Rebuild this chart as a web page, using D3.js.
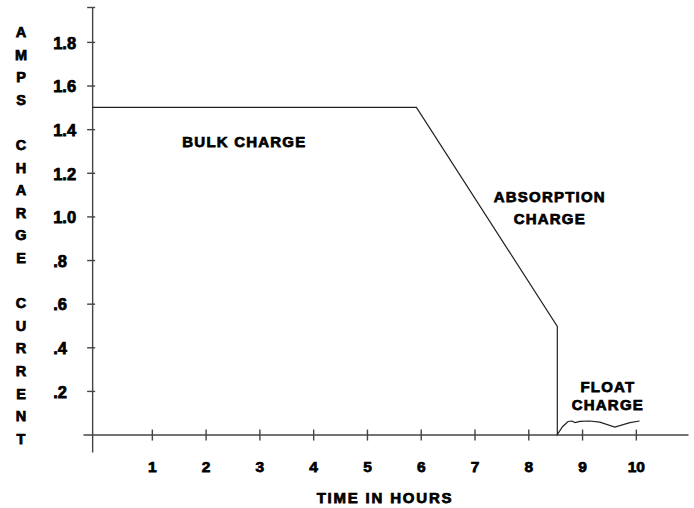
<!DOCTYPE html>
<html>
<head>
<meta charset="utf-8">
<script src="https://cdn.jsdelivr.net/npm/d3@7"></script>
<style>
  body { margin: 0; background: #fff; }
  text { font-family: "Liberation Sans", Arial, sans-serif; font-weight: bold; fill: #000; stroke: #000; stroke-width: 0.75px; }
</style>
</head>
<body>
<div id="my_dataviz"></div>
<script>
// charge curve
var timeHours   = [-0.11, 5.92, 8.54, 8.54, 8.64, 8.74, 8.81, 8.87, 8.96, 9.14, 9.33, 9.61, 9.89, 10.07];
var ampsCurrent = [1.5,   1.5,  0.496, 0,   0.037, 0.06, 0.062, 0.055, 0.06, 0.062, 0.057, 0.034, 0.055, 0.062];

var xTicks = [1, 2, 3, 4, 5, 6, 7, 8, 9, 10];
var yTicks = [0.2, 0.4, 0.6, 0.8, 1.0, 1.2, 1.4, 1.6, 1.8];
var yTickLabels = [".2", ".4", ".6", ".8", "1.0", "1.2", "1.4", "1.6", "1.8"];

var yTitle = ["A", "M", "P", "S", "", "C", "H", "A", "R", "G", "E", "", "C", "U", "R", "R", "E", "N", "T"];

var phaseLabels = [
  { lines: ["BULK CHARGE"], x: 2.72, y: 1.32, gap: 20 },
  { lines: ["ABSORPTION", "CHARGE"], x: 8.4, y: 1.065, gap: 22 },
  { lines: ["FLOAT", "CHARGE"], x: 9.48, y: 0.197, gap: 18 }
];

var width = 694, height = 508;

var svg = d3.select("#my_dataviz")
    .append("svg")
    .attr("width", width)
    .attr("height", height);

var xScale = d3.scaleLinear()
    .domain([-0.28, 10.97])
    .range([83, 688]);

var yScale = d3.scaleLinear()
    .domain([-0.08, 1.96])
    .range([452, 7]);

var axisX0 = xScale(-0.11);

// X axis
var gx = svg.append("g")
    .attr("transform", "translate(0," + yScale(0) + ")")
    .call(d3.axisBottom(xScale).tickValues(xTicks).tickSizeOuter(0).tickSizeInner(6).tickPadding(20));
gx.selectAll(".tick line").attr("y1", -5).attr("y2", 6);
gx.selectAll(".tick text").style("font-size", "15.5px");

// Y axis (top value gets a blank tick as a cap)
var gy = svg.append("g")
    .attr("transform", "translate(" + axisX0 + ",0)")
    .call(d3.axisLeft(yScale)
        .tickValues(yTicks.concat([1.96]))
        .tickFormat(function(d, i) { return i < yTickLabels.length ? yTickLabels[i] : ""; })
        .tickSizeOuter(0));
gy.selectAll(".tick line").attr("x1", -5).attr("x2", 3);
gy.selectAll(".tick text")
    .attr("x", -39)
    .attr("dy", "0.38em")
    .attr("text-anchor", "start")
    .style("font-size", "16.5px");

svg.selectAll(".domain, .tick line")
    .attr("stroke", "#444")
    .attr("stroke-width", 1.4);
svg.selectAll(".tick text").attr("fill", "#000");

// curve
var line = d3.line()
    .x(function(d, i) { return xScale(timeHours[i]); })
    .y(function(d) { return yScale(d); })
    .curve(d3.curveLinear);

svg.append("path")
    .datum(ampsCurrent)
    .attr("fill", "none")
    .attr("stroke", "#222")
    .attr("stroke-width", 1.2)
    .attr("d", line);

// vertical y title, one letter per row
svg.append("g")
    .selectAll("text")
    .data(yTitle)
    .enter()
    .append("text")
    .attr("x", 21)
    .attr("y", function(d, i) { return 37 + i * 22.6; })
    .attr("text-anchor", "middle")
    .style("font-size", "14.5px")
    .text(function(d) { return d; });

// x title
svg.append("text")
    .attr("x", 385)
    .attr("y", 503)
    .attr("text-anchor", "middle")
    .style("font-size", "15px")
    .style("letter-spacing", "1.8px")
    .text("TIME IN HOURS");

// phase labels
phaseLabels.forEach(function(p) {
    svg.append("g").selectAll("text")
        .data(p.lines)
        .enter()
        .append("text")
        .attr("x", xScale(p.x))
        .attr("y", function(d, i) { return yScale(p.y) + i * p.gap; })
        .attr("text-anchor", "middle")
        .style("font-size", "15px")
        .style("letter-spacing", "1.2px")
        .text(function(d) { return d; });
});
</script>
</body>
</html>
